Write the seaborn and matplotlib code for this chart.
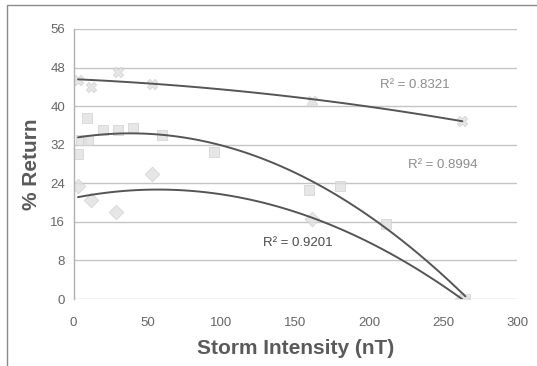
import numpy as np
import pandas as pd
import seaborn as sns
import matplotlib.pyplot as plt
from matplotlib.patches import Rectangle

# Storm intensity (nT) vs. % return for three groups
upper_x = [3, 12, 30, 53, 161, 263]
upper_y = [45.5, 44.0, 47.0, 44.5, 41.0, 37.0]

middle_x = [3, 5, 9, 10, 20, 30, 40, 60, 95, 159, 180, 211, 265]
middle_y = [30.0, 33.0, 37.5, 33.0, 35.0, 35.0, 35.5, 34.0, 30.5, 22.5, 23.5, 15.5, 0.0]

lower_x = [3, 12, 29, 53, 161, 263]
lower_y = [23.5, 20.5, 18.0, 26.0, 16.5, 0.0]

r2_labels = ["R\u00b2 = 0.8321", "R\u00b2 = 0.8994", "R\u00b2 = 0.9201"]
r2_pos = [(231, 44.4), (250, 27.8), (152, 11.6)]
r2_colors = ["#8c8c8c", "#8c8c8c", "#4a4a4a"]

x_ticks = [0, 50, 100, 150, 200, 250, 300]
y_ticks = [0, 8, 16, 24, 32, 40, 48, 56]

sns.set_theme(style="white")
plt.rcParams["font.family"] = ["Liberation Sans", "DejaVu Sans"]

fig = plt.figure(figsize=(5.37, 3.66), dpi=100)
ax = fig.add_axes([0.137, 0.183, 0.826, 0.738])

# frame around the whole chart area
fig.patches.append(Rectangle((0.013, -0.05), 1.2, 1.036, transform=fig.transFigure,
                             fill=False, edgecolor="#8a8a8a", linewidth=1.0))

for yv in y_ticks:
    ax.axhline(yv, color="#c4c4c4", linewidth=1.0, zorder=0)

series = [
    (upper_x, upper_y, "X"),
    (middle_x, middle_y, "s"),
    (lower_x, lower_y, "D"),
]
for xs, ys, mk in series:
    sns.regplot(x=np.array(xs, float), y=np.array(ys, float), order=2, ci=None, ax=ax,
                marker=mk,
                scatter_kws=dict(s=55, color="#e0e0e0", edgecolor="#cfcfcf",
                                 linewidths=0.6, zorder=2),
                line_kws=dict(color="#555555", linewidth=1.4, zorder=3))

for txt, (tx, ty), c in zip(r2_labels, r2_pos, r2_colors):
    ax.text(tx, ty, txt, ha="center", va="center", fontsize=9.5, color=c)

ax.set_xlim(0, 300)
ax.set_ylim(0, 56)
ax.set_xticks(x_ticks)
ax.set_yticks(y_ticks)
ax.tick_params(axis="both", length=0, labelsize=9.5, labelcolor="#666666")
ax.tick_params(axis="x", pad=13)
ax.tick_params(axis="y", pad=6)
ax.set_xlabel("Storm Intensity (nT)", fontsize=15, fontweight="bold", color="#5a5a5a", labelpad=7)
ax.set_ylabel("% Return", fontsize=15, fontweight="bold", color="#5a5a5a", labelpad=7)

for side in ["top", "right", "bottom"]:
    ax.spines[side].set_visible(False)
ax.spines["left"].set_color("#b0b0b0")
ax.spines["left"].set_linewidth(1.0)

fig.savefig("out.png", dpi=100, facecolor="white")
